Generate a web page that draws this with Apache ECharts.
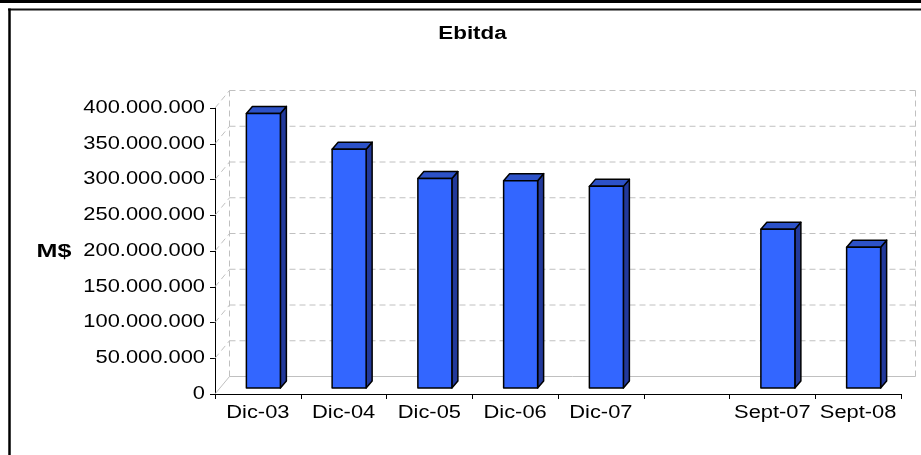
<!DOCTYPE html>
<html>
<head>
<meta charset="utf-8">
<script src="https://cdn.jsdelivr.net/npm/echarts@6/dist/echarts.min.js"></script>
<style>
  html, body { margin: 0; padding: 0; background: #fff; }
  #chart { width: 921px; height: 455px; }
</style>
</head>
<body>
<div id="chart"></div>
<script>
// ---- data ----
const categories = ['Dic-03', 'Dic-04', 'Dic-05', 'Dic-06', 'Dic-07', '', 'Sept-07', 'Sept-08'];
const ebitda = [384000000, 334000000, 293000000, 290000000, 282000000, null, 222000000, 197000000];
const yTicks = [0, 50000000, 100000000, 150000000, 200000000, 250000000, 300000000, 350000000, 400000000];
const titleText = 'Ebitda';
const yAxisName = 'M$';

// ---- style constants ----
const FONT = '"Liberation Sans", Arial, sans-serif';
const STRETCH = 1.25;
const WALL_DX = 14.5, WALL_DY = -17.5;
const BAR_OFF_X = 5.5, BAR_OFF_Y = -6;
const BAR_W = 34, BAR_DX = 6, BAR_DY = -7;

function fmt(v) {
  return String(v).replace(/\B(?=(\d{3})+(?!\d))/g, '.');
}

const chart = echarts.init(document.getElementById('chart'), null, { renderer: 'canvas' });

const barData = [];
ebitda.forEach((v, i) => { if (v !== null) barData.push([i, v]); });

const option = {
  animation: false,
  backgroundColor: '#ffffff',
  grid: { left: 215, right: 20, top: 108, bottom: 61 },
  xAxis: {
    type: 'category',
    data: categories,
    boundaryGap: true,
    axisLine: { lineStyle: { color: '#000', width: 1 } },
    axisTick: { show: true, length: 5, lineStyle: { color: '#000' } },
    axisLabel: { show: false },
    splitLine: { show: false }
  },
  yAxis: {
    type: 'value',
    min: 0, max: 400000000, interval: 50000000,
    axisLine: { show: true, lineStyle: { color: '#000', width: 1 } },
    axisTick: { show: true, length: 5, lineStyle: { color: '#000' } },
    axisLabel: { show: false },
    splitLine: { show: false }
  },
  graphic: [
    { type: 'line', shape: { x1: 0, y1: 1.5, x2: 921, y2: 1.5 }, style: { stroke: '#000', lineWidth: 3 } },
    { type: 'line', shape: { x1: 8, y1: 9.5, x2: 921, y2: 9.5 }, style: { stroke: '#111', lineWidth: 2 } },
    { type: 'line', shape: { x1: 9.5, y1: 8.5, x2: 9.5, y2: 455 }, style: { stroke: '#000', lineWidth: 2.5 } },
    { type: 'text', x: 472.5, y: 34, scaleX: 1.28, scaleY: 1,
      style: { text: titleText, x: 0, y: 0, align: 'center', verticalAlign: 'middle',
               font: 'bold 17.5px ' + FONT, fill: '#000' } },
    { type: 'text', x: 54, y: 252, scaleX: 1.32, scaleY: 1,
      style: { text: yAxisName, x: 0, y: 0, align: 'center', verticalAlign: 'middle',
               font: 'bold 19px ' + FONT, fill: '#000' } }
  ],
  series: [
    {
      // back walls & gridlines
      type: 'custom',
      z: 1,
      silent: true,
      data: yTicks.map((v, i) => [i, v]),
      renderItem: function (params, api) {
        const cs = params.coordSys;
        const v = api.value(1);
        const y = api.coord([0, v])[1];
        const x0 = cs.x, x1 = cs.x + cs.width;
        const solid = v === 0;
        const st = { stroke: '#C0C0C0', lineWidth: 1, lineDash: solid ? null : [6, 4] };
        const children = [
          { type: 'line', shape: { x1: x0, y1: y, x2: x0 + WALL_DX, y2: y + WALL_DY }, style: st },
          { type: 'line', shape: { x1: x0 + WALL_DX, y1: y + WALL_DY, x2: x1 + WALL_DX, y2: y + WALL_DY }, style: st }
        ];
        if (params.dataIndex === 0) {
          const yTop = api.coord([0, yTicks[yTicks.length - 1]])[1];
          const vst = { stroke: '#C0C0C0', lineWidth: 1, lineDash: [6, 4] };
          children.push({ type: 'line', shape: { x1: x0 + WALL_DX, y1: y + WALL_DY, x2: x0 + WALL_DX, y2: yTop + WALL_DY }, style: vst });
          children.push({ type: 'line', shape: { x1: x1 + WALL_DX, y1: y + WALL_DY, x2: x1 + WALL_DX, y2: yTop + WALL_DY }, style: vst });
        }
        return { type: 'group', children: children };
      }
    },
    {
      // 3D bars
      type: 'custom',
      z: 3,
      data: barData,
      renderItem: function (params, api) {
        const i = api.value(0), v = api.value(1);
        const base = api.coord([i, 0]);
        const top = api.coord([i, v]);
        const cx = base[0] + BAR_OFF_X;
        const yb = base[1] + BAR_OFF_Y;
        const yt = top[1] + BAR_OFF_Y;
        const l = cx - BAR_W / 2, r = cx + BAR_W / 2;
        const edge = { stroke: '#000', lineWidth: 1.5, lineJoin: 'round' };
        return {
          type: 'group',
          children: [
            { type: 'polygon', shape: { points: [[r, yb], [r, yt], [r + BAR_DX, yt + BAR_DY], [r + BAR_DX, yb + BAR_DY]] },
              style: Object.assign({ fill: '#22399A' }, edge) },
            { type: 'polygon', shape: { points: [[l, yt], [r, yt], [r + BAR_DX, yt + BAR_DY], [l + BAR_DX, yt + BAR_DY]] },
              style: Object.assign({ fill: '#2D52C8' }, edge) },
            { type: 'rect', shape: { x: l, y: yt, width: BAR_W, height: yb - yt },
              style: Object.assign({ fill: '#3366FF' }, edge) }
          ]
        };
      }
    },
    {
      // y-axis tick labels (horizontally stretched text)
      type: 'custom',
      z: 4,
      silent: true,
      data: yTicks.map((v, i) => [i, v]),
      renderItem: function (params, api) {
        const v = api.value(1);
        const y = api.coord([0, v])[1];
        return {
          type: 'text', x: params.coordSys.x - 10, y: y, scaleX: STRETCH, scaleY: 1,
          style: { text: fmt(v), x: 0, y: 0, align: 'right', verticalAlign: 'middle',
                   font: '17.5px ' + FONT, fill: '#000' }
        };
      }
    },
    {
      // x-axis category labels (horizontally stretched text)
      type: 'custom',
      z: 4,
      silent: true,
      data: categories.map((c, i) => [i, 0]),
      renderItem: function (params, api) {
        const i = api.value(0);
        const p = api.coord([i, 0]);
        return {
          type: 'text', x: p[0], y: p[1] + 19, scaleX: STRETCH, scaleY: 1,
          style: { text: categories[i], x: 0, y: 0, align: 'center', verticalAlign: 'middle',
                   font: '17.5px ' + FONT, fill: '#000' }
        };
      }
    }
  ]
};

chart.setOption(option);
</script>
</body>
</html>
